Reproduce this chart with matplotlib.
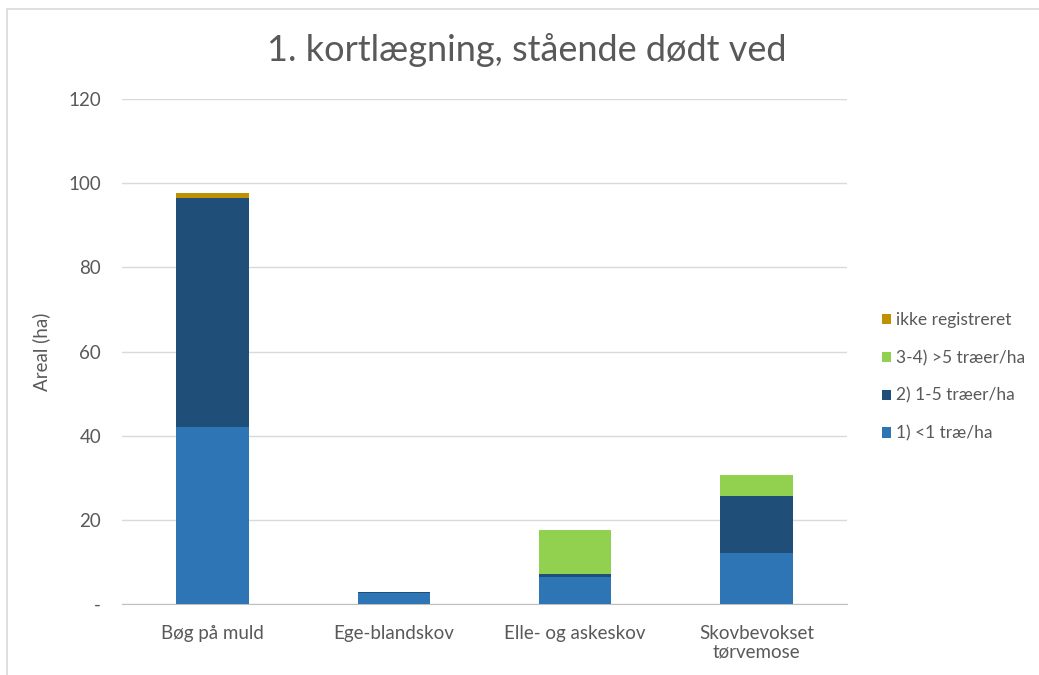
import numpy as np
import matplotlib.pyplot as plt
from matplotlib.patches import Rectangle

plt.rcParams['font.family'] = ['Lato', 'DejaVu Sans']

categories = ['Bøg på muld', 'Ege-blandskov', 'Elle- og askeskov', 'Skovbevokset\ntørvemose']
lt1 = np.array([42.0, 2.6, 6.3, 12.2])      # 1) <1 træ/ha
t1_5 = np.array([54.5, 0.3, 0.8, 13.5])     # 2) 1-5 træer/ha
gt5 = np.array([0.0, 0.0, 10.5, 5.0])       # 3-4) >5 træer/ha
ikke = np.array([1.2, 0.0, 0.0, 0.0])       # ikke registreret

series = [('1) <1 træ/ha', lt1, '#2E75B6'),
          ('2) 1-5 træer/ha', t1_5, '#1F4E79'),
          ('3-4) >5 træer/ha', gt5, '#92D050'),
          ('ikke registreret', ikke, '#BF9000')]

fig = plt.figure(figsize=(10.39, 6.75), dpi=100)
fig.patches.append(Rectangle((7/1039, -0.1), 1.2, 1 - 9/675 + 0.1,
                             transform=fig.transFigure, fill=False,
                             edgecolor='#D9D9D9', linewidth=1.2))
ax = fig.add_axes([122/1039, 1 - 604/675, 725/1039, 505/675])

x = np.arange(len(categories))
bottom = np.zeros(len(categories))
handles = []
for label, vals, color in series:
    h = ax.bar(x, vals, 0.4, bottom=bottom, color=color, label=label, zorder=3)
    handles.append(h)
    bottom += vals

ax.set_xlim(-0.5, 3.5)
ax.set_ylim(0, 120)
ax.set_yticks(np.arange(0, 121, 20))
ax.set_yticklabels(['-'] + [str(v) for v in range(20, 121, 20)])
ax.set_xticks(x)
ax.set_xticklabels(categories, linespacing=1.1)
ax.grid(axis='y', color='#D9D9D9', linewidth=1, zorder=0)
for s in ['top', 'right', 'left']:
    ax.spines[s].set_visible(False)
ax.spines['bottom'].set_color('#BFBFBF')
ax.tick_params(length=0, colors='#595959', labelsize=13.5)
ax.tick_params(axis='y', pad=15)
ax.tick_params(axis='x', pad=15)
ax.set_ylabel('Areal (ha)', color='#595959', fontsize=13.5, labelpad=13)

fig.text(527/1039, 1 - 50/675, '1. kortlægning, stående dødt ved',
         ha='center', va='center', fontsize=26, color='#595959')

ax.legend(handles[::-1], [s[0] for s in series][::-1],
          loc='center left', bbox_to_anchor=(866/1039, 1 - 377/675),
          bbox_transform=fig.transFigure, frameon=False, fontsize=12.5,
          labelcolor='#595959', handlelength=0.55, handleheight=0.55,
          handletextpad=0.25, labelspacing=1.25)

fig.savefig('out.png', dpi=100)
